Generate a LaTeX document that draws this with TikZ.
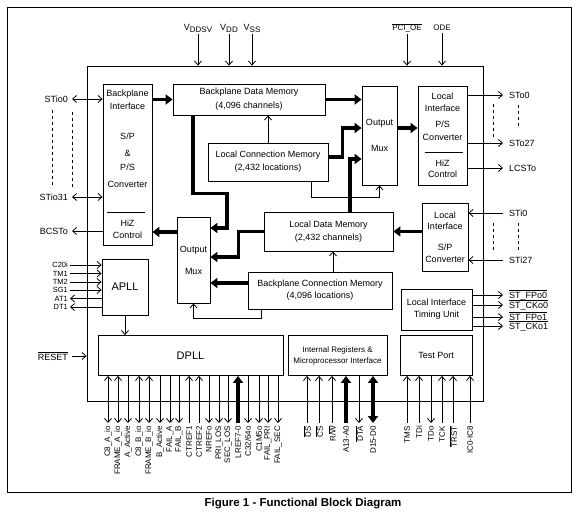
\documentclass[tikz,border=0pt]{standalone}
\usepackage{fontspec}
\setmainfont{Liberation Sans}
\usetikzlibrary{arrows.meta, positioning}

\begin{document}
\begin{tikzpicture}[x=1pt, y=-1pt,
  >={Straight Barb[length=4pt,width=7pt]},
  blk/.style={draw, line width=0.8pt, inner sep=0pt, align=center, font=\fontsize{9}{13}\selectfont},
  pinl/.style={anchor=east, inner xsep=4pt, inner ysep=1pt, font=\fontsize{9}{10}\selectfont},
  pinr/.style={anchor=west, inner xsep=6pt, inner ysep=1pt, font=\fontsize{9}{10}\selectfont},
  pint/.style={inner sep=1.5pt, font=\fontsize{9}{10}\selectfont},
  apin/.style={anchor=east, inner xsep=2pt, inner ysep=0.5pt, font=\fontsize{7.5}{8}\selectfont},
  vlab/.style={rotate=90, anchor=east, inner xsep=3pt, inner ysep=1pt, font=\fontsize{8}{9}\selectfont},
  wire/.style={line width=0.8pt},
  sep/.style={line width=0.5pt},
  dots/.style={line width=0.8pt, dash pattern=on 3pt off 3pt},
  bus/.style={line width=3.6pt, -{Triangle[length=7pt,width=10pt]}},
  busin/.style={line width=3.6pt, {Triangle[length=7pt,width=10pt]}-},
  busio/.style={line width=3.6pt, {Triangle[length=7pt,width=10pt]}-{Triangle[length=7pt,width=10pt]}},
  bidi/.style={wire, <->},
  outp/.style={wire, ->},
  inp/.style={wire, <-}
]
\useasboundingbox (0,0) rectangle (580,521);

% frame and chip outline
\node[draw, line width=0.8pt, minimum width=564pt, minimum height=485pt] (frame) at (289,249.5) {};
\node[draw, line width=0.8pt, minimum width=396pt, minimum height=335pt] (chip) at (285,233.5) {};

% blocks
\node[blk, minimum width=49pt, minimum height=161pt] (bpi) at (127.5,164.5)
  {Backplane\\Interface\\[17pt]S/P\\[4pt]\&\\[1pt]P/S\\[4pt]Converter\\[26pt]HiZ\\[-1pt]Control};
\node[blk, minimum width=152pt, minimum height=31pt] (bdm) at (249,99.5) {Backplane Data Memory\\[1pt](4,096 channels)};
\node[blk, minimum width=35pt, minimum height=99pt] (mux1) at (379.5,135.5) {Output\\[13pt]Mux};
\node[blk, minimum width=120pt, minimum height=38pt] (lcm) at (268,162) {Local Connection Memory\\(2,432 locations)};
\node[blk, minimum width=49pt, minimum height=99pt] (ps) at (442.5,135.5)
  {Local\\[-1pt]Interface\\[3pt]P/S\\Converter\\[13pt]HiZ\\[-2pt]Control};
\node[blk, minimum width=33pt, minimum height=86pt] (mux2) at (193.5,260) {Output\\[9pt]Mux};
\node[blk, minimum width=129pt, minimum height=39pt] (ldm) at (328.5,231.5) {Local Data Memory\\(2,432 channels)};
\node[blk, minimum width=144pt, minimum height=37pt] (bcm) at (320,290.5) {Backplane Connection Memory\\[-1pt](4,096 locations)};
\node[blk, minimum width=46pt, minimum height=68pt] (sp) at (445,237) {Local\\[-2pt]Interface\\[8pt]S/P\\[-1pt]Converter};
\node[blk, minimum width=71pt, minimum height=41pt] (lit) at (436.5,309.5) {Local Interface\\[-1pt]Timing Unit};
\node[blk, minimum width=46pt, minimum height=56pt, font=\fontsize{11}{13}\selectfont] (apll) at (125,287) {APLL};
\node[blk, minimum width=185pt, minimum height=40pt, font=\fontsize{11}{13}\selectfont] (dpll) at (190.5,355.5) {DPLL};
\node[blk, minimum width=99pt, minimum height=40pt, font=\fontsize{8}{10}\selectfont] (ireg) at (337.5,355.5)
  {Internal Registers \&\\[1pt]Microprocessor Interface};
\node[blk, minimum width=72pt, minimum height=40pt] (tport) at (436,355.5) {Test Port};

\draw[sep] ([shift={(4pt,-47.5pt)}]bpi.west) -- ([shift={(-7pt,-47.5pt)}]bpi.east);
\draw[sep] ([shift={(7pt,-16.5pt)}]ps.west) -- ([shift={(-4pt,-16.5pt)}]ps.east);

% data paths
\draw[bus] (bdm.west -| bpi.east) -- (bdm.west);
\draw[bus] (bdm.east) -- (bdm.east -| mux1.west);
\draw[bus] ([yshift=5pt]lcm.east) -- ++(14,0) |- ([yshift=7.5pt]mux1.west);
\draw[bus] ([xshift=21.5pt]ldm.north) |- ([yshift=-23.5pt]mux1.west);
\draw[bus] ([yshift=7.5pt]mux1.east) -- ([yshift=7.5pt]mux1.east -| ps.west);
\draw[bus] ([xshift=-56pt]bdm.south) |- ++(34,78) |- ([yshift=32pt]mux2.east);
\draw[bus] ([yshift=28pt]mux2.west) -- ([yshift=28pt]mux2.west -| bpi.east);
\draw[bus] (ldm.west) -- ++(-25,0) |- ([yshift=3pt]mux2.east);
\draw[bus] ([yshift=7.5pt]bcm.west) -- ([yshift=7.5pt]bcm.west -| mux2.east);
\draw[bus] (sp.west |- ldm.east) -- (ldm.east);

% control paths
\draw[outp] (lcm.north) -- (lcm.north |- bdm.south);
\draw[outp] ([xshift=43pt]lcm.south) -- ++(0,16) -| (mux1.south);
\draw[outp] ([xshift=13pt]bcm.north) -- ([xshift=13pt]bcm.north |- ldm.south);
\draw[outp] ([xshift=-59pt]bcm.south) -- ++(0,9) -| (mux2.south);
\draw[outp] (apll.south) -- (apll.south |- dpll.north);

% supply and enable pins
\node[pint] (vddsv) at (198,28) {V\raisebox{-2pt}{\fontsize{8}{8}\selectfont DDSV}};
\node[pint] (vdd) at (229,28) {V\raisebox{-2pt}{\fontsize{8}{8}\selectfont DD}};
\node[pint] (vss) at (252,28) {V\raisebox{-2pt}{\fontsize{8}{8}\selectfont SS}};
\node[pint, font=\fontsize{8}{9}\selectfont] (pcioe) at (407,28) {$\overline{\hbox{PCI\_OE}}$};
\node[pint, font=\fontsize{8}{9}\selectfont] (ode) at (442,28) {ODE};
\foreach \p in {vddsv, vdd, vss, pcioe, ode}
  \draw[outp] (\p.south) -- (\p.south |- chip.north);

% backplane side
\node[pinl] (stio0) at (72,99) {STio0};
\node[pinl] (stio31) at (72,197) {STio31};
\node[pinl] (bcsto) at (72,231) {BCSTo};
\draw[bidi] (stio0.east) -- (stio0 -| bpi.west);
\draw[bidi] (stio31.east) -- (stio31 -| bpi.west);
\draw[outp] (bcsto -| bpi.west) -- (bcsto.east);
\draw[dots] (52,110) -- (52,188);
\draw[dots] (72,112) -- (72,188);

\foreach \y/\n/\lab/\kind in {265/c20/C20i/outp, 273.5/tm1/TM1/outp, 282/tm2/TM2/outp,
    290/sg1/SG1/outp, 298.5/at1/AT1/inp, 307/dt1/DT1/inp}{
  \node[apin] (\n) at (70,\y) {\lab};
  \draw[\kind] (\n.east) -- (\n -| apll.west);
}
\node[pinl] (reset) at (72,356) {$\overline{\hbox{RESET}}$};
\draw[outp] (reset.east) -- (reset -| chip.west);

% local side
\node[pinr] (sto0) at (503,95) {STo0};
\node[pinr] (sto27) at (503,143) {STo27};
\node[pinr] (lcsto) at (503,168) {LCSTo};
\foreach \n in {sto0, sto27, lcsto}
  \draw[outp] (\n -| ps.east) -- (\n.west);
\draw[dots] (493,104) -- (493,137);
\draw[dots] (518,105) -- (518,128);

\node[pinr] (sti0) at (503,213) {STi0};
\node[pinr] (sti27) at (503,260) {STi27};
\foreach \n in {sti0, sti27}
  \draw[outp] (\n.west) -- (\n -| sp.east);
\draw[dots] (493,223) -- (493,252);
\draw[dots] (518,223) -- (518,253);

\foreach \y/\n/\lab in {295/fpo0/ST\_FPo0, 305/cko0/ST\_CKo0, 317/fpo1/ST\_FPo1, 326/cko1/ST\_CKo1}{
  \node[pinr] (\n) at (503,\y) {$\overline{\hbox{\lab}}$};
  \draw[outp] (\n -| lit.east) -- (\n.west);
}

% bottom pins
\foreach \x/\b/\lab/\kind in {108/dpll/C8\_A\_io/bidi, 118/dpll/FRAME\_A\_io/bidi, 128/dpll/A\_Active/outp,
    139/dpll/C8\_B\_io/bidi, 149/dpll/FRAME\_B\_io/bidi, 160/dpll/B\_Active/outp,
    170/dpll/FAIL\_A/outp, 179/dpll/FAIL\_B/outp, 189/dpll/CTREF1/inp, 199/dpll/CTREF2/inp,
    209/dpll/NREFo/outp, 219/dpll/PRI\_LOS/outp, 228/dpll/SEC\_LOS/outp, 238/dpll/LREF7-0/busin,
    248/dpll/{C32/64o}/outp, 259/dpll/C1M5o/outp, 268/dpll/FAIL\_PRI/outp, 278/dpll/FAIL\_SEC/outp,
    307/ireg/{$\overline{\hbox{DS}}$}/inp, 319/ireg/{$\overline{\hbox{CS}}$}/inp,
    332/ireg/{R/$\overline{\hbox{W}}$}/inp, 346/ireg/A13-A0/busin,
    359/ireg/{$\overline{\hbox{DTA}}$}/outp, 373/ireg/D15-D0/busio,
    407/tport/TMS/inp, 419/tport/TDi/inp, 431/tport/TDo/outp, 442/tport/TCK/inp,
    453/tport/{$\overline{\hbox{TRST}}$}/inp, 470/tport/IC0-IC8/inp}{
  \node[vlab] (p\x) at (\x,423) {\lab};
  \draw[\kind] (p\x.east |- \b.south) -- (p\x.east);
}

\node[font=\fontsize{11.5}{13}\selectfont\bfseries] (caption) at (303,504) {Figure 1 - Functional Block Diagram};
\end{tikzpicture}
\end{document}
